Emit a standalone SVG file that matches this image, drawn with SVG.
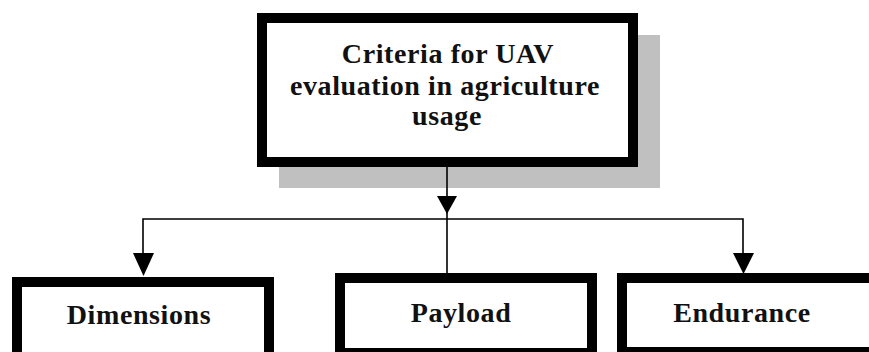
<svg xmlns="http://www.w3.org/2000/svg" width="869" height="352" viewBox="0 0 869 352">
<style>
.box{fill:#fff;stroke:#000;stroke-width:10}
.lbl{font-family:"Liberation Serif","Times New Roman",serif;font-weight:bold;font-size:28px;fill:#111;text-anchor:middle;letter-spacing:0.6px}
.ln{stroke:#000;stroke-width:1.6;fill:none}
.ah{fill:#000}
</style>
<rect width="869" height="352" fill="#fff"/>
<g id="root">
<rect x="279" y="35" width="381" height="153" fill="#c0c0c0"/>
<rect class="box" x="262" y="18" width="371" height="144"/>
<text class="lbl" x="448" y="63">Criteria for UAV</text>
<text class="lbl" x="445" y="95">evaluation in agriculture</text>
<text class="lbl" x="447" y="125">usage</text>
</g>
<g id="connectors">
<line class="ln" x1="447" y1="167" x2="447" y2="273"/>
<polygon class="ah" points="437,196 457,196 447,214"/>
<polyline class="ln" points="143,255 143,219 743,219 743,255"/>
<polygon class="ah" points="133,253 154,253 143.5,276"/>
<polygon class="ah" points="733,253 754,253 743.5,274"/>
</g>
<g id="dimensions">
<rect class="box" x="17" y="282" width="252" height="80"/>
<text class="lbl" x="139" y="324">Dimensions</text>
</g>
<g id="payload">
<rect class="box" x="340" y="278" width="252" height="75"/>
<text class="lbl" x="461" y="322">Payload</text>
</g>
<g id="endurance">
<rect class="box" x="622" y="278" width="270" height="74"/>
<text class="lbl" x="742" y="322">Endurance</text>
</g>
</svg>
